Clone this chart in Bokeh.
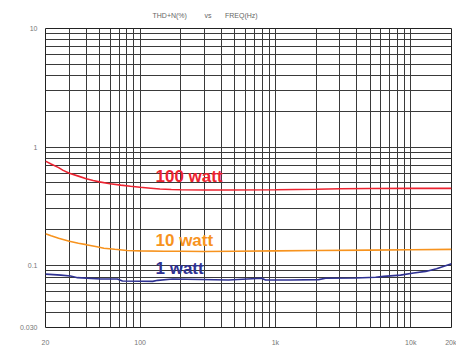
from bokeh.plotting import figure
from bokeh.models import FixedTicker, Label, Title
from bokeh.embed import file_html
from bokeh.resources import INLINE

# Data
freq_100 = [20, 22, 25, 27, 30, 35, 40, 45, 50, 60, 72, 85, 100, 120, 140, 170, 200, 300, 450, 1000, 2000, 3000, 5000, 10000, 20000]
thd_100 = [0.76, 0.72, 0.67, 0.635, 0.60, 0.568, 0.54, 0.522, 0.508, 0.49, 0.477, 0.466, 0.457, 0.449, 0.442, 0.438, 0.436, 0.434, 0.434, 0.436, 0.44, 0.444, 0.446, 0.448, 0.448]

freq_10 = [20, 22, 25, 30, 35, 40, 48, 54, 65, 80, 100, 150, 200, 300, 500, 1000, 2000, 5000, 10000, 20000]
thd_10 = [0.185, 0.178, 0.17, 0.16, 0.154, 0.15, 0.144, 0.140, 0.137, 0.134, 0.133, 0.132, 0.132, 0.1315, 0.132, 0.133, 0.134, 0.135, 0.136, 0.137]

freq_1 = [20, 26, 30.6, 34.5, 51, 68, 74, 101, 124, 135, 174, 280, 450, 790, 845, 1290, 2080, 2350, 3900, 5500, 6300, 8400, 10500, 12900, 15500, 20000]
thd_1 = [0.0847, 0.083, 0.0816, 0.079, 0.0769, 0.077, 0.0741, 0.0736, 0.0735, 0.075, 0.0769, 0.0762, 0.0755, 0.078, 0.0755, 0.0755, 0.076, 0.078, 0.0785, 0.0797, 0.081, 0.083, 0.0865, 0.0892, 0.094, 0.1035]

x_label_ticks = [20, 100, 1000, 10000, 20000]
x_label_text = ["20", "100", "1k", "10k", "20k"]
y_label_ticks = [0.03, 0.1, 1, 10]
y_label_text = ["0.030", "0.1", "1", "10"]

x_grid_ticks = [20, 30, 40, 50, 60, 70, 80, 90, 100, 200, 300, 400, 500, 600, 700, 800, 900,
                1000, 2000, 3000, 4000, 5000, 6000, 7000, 8000, 9000, 10000, 20000]
y_grid_ticks = [0.03, 0.04, 0.05, 0.06, 0.07, 0.08, 0.09, 0.1, 0.2, 0.3, 0.4, 0.5, 0.6, 0.7, 0.8, 0.9,
                1, 2, 3, 4, 5, 6, 7, 8, 9, 10]

series_names = ["100 watt", "10 watt", "1 watt"]
series_colors = ["#ec2330", "#f7931e", "#2e3192"]
label_pos = [(130, 0.562), (130, 0.164), (130, 0.0952)]

title_text = "THD+N(%)" + "\u00a0" * 9 + "vs" + "\u00a0" * 7 + "FREQ(Hz)"

p = figure(width=456, height=349, x_axis_type="log", y_axis_type="log",
           x_range=(20, 20000), y_range=(0.03, 10),
           output_backend="svg", toolbar_location=None,
           min_border_left=45, min_border_right=5, min_border_top=0, min_border_bottom=22)
p.title = Title(text=title_text, align="left", offset=107, text_font="Liberation Sans",
                text_font_size="7px", text_font_style="normal", text_color="#666666",
                standoff=15, vertical_align="top", padding=dict(left=0, right=0, top=4, bottom=0))
p.border_fill_color = "white"
p.background_fill_color = "white"
p.outline_line_color = "#222222"
p.outline_line_width = 1

for ax, ticks, texts in ((p.xaxis[0], x_label_ticks, x_label_text), (p.yaxis[0], y_label_ticks, y_label_text)):
    ax.ticker = FixedTicker(ticks=ticks)
    ax.major_label_overrides = dict(zip(ticks, texts))
    ax.axis_line_color = None
    ax.major_tick_line_color = None
    ax.minor_tick_line_color = None
    ax.major_tick_in = 0
    ax.major_tick_out = 0
    ax.major_label_text_font = "Liberation Sans"
    ax.major_label_text_font_size = "7px"
    ax.major_label_text_color = "#777777"
p.xaxis.major_label_standoff = 11
p.yaxis.major_label_standoff = 8

p.xgrid.ticker = FixedTicker(ticks=x_grid_ticks)
p.ygrid.ticker = FixedTicker(ticks=y_grid_ticks)
for g in (p.xgrid[0], p.ygrid[0]):
    g.grid_line_color = "#3a3a3a"
    g.grid_line_width = 1
    g.grid_line_alpha = 1

for fx, fy, c in ((freq_100, thd_100, series_colors[0]), (freq_10, thd_10, series_colors[1]), (freq_1, thd_1, series_colors[2])):
    p.line(fx, fy, line_color=c, line_width=1.6)

for name, c, (lx, ly) in zip(series_names, series_colors, label_pos):
    p.add_layout(Label(x=lx, y=ly, text=name, text_color=c, text_font="Liberation Sans",
                       text_font_style="bold", text_font_size="17px",
                       text_baseline="middle", text_align="left"))

open("out.html", "w").write(file_html(p, INLINE))
